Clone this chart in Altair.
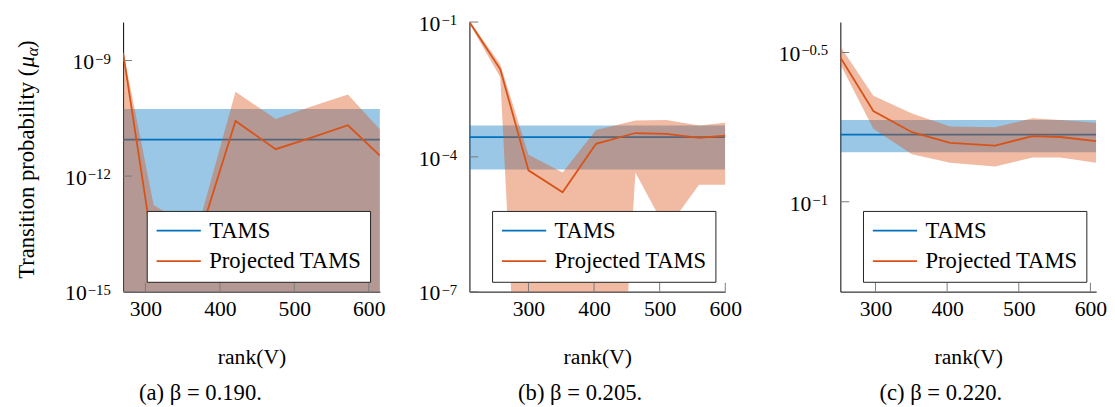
import altair as alt
import pandas as pd

FONT = "Liberation Serif"
BLUE = "#0072BD"
ORANGE = "#D95319"
TICK = "#7a7a7a"

# ---------------- data ----------------
x_ticks = [300, 400, 500, 600]

# (a) beta = 0.190
rank_a = [270, 311, 369, 421, 475, 520, 572, 615]
mean_a = [1.58e-9, 1.05e-14, 1.62e-14, 2.69e-11, 5.0e-12, 9.5e-12, 2.09e-11, 3.39e-12]
hi_a = [1.78e-9, 1.78e-13, 3.63e-14, 1.55e-10, 3.02e-11, 6.17e-11, 1.32e-10, 1.62e-11]
lo_a = [1e-17, 1e-18, 1e-18, 1e-16, 1e-17, 1e-17, 1e-16, 1e-17]
tams_a = [8.9e-12, 5.5e-11, 1e-17]          # mean, upper, lower
ydom_a = [1e-15, 1e-8]
yticks_a = [1e-15, 1e-12, 1e-9]
yexp_a = ["\u221215", "\u221212", "\u22129"]

# (b) beta = 0.205
rank_b = [210, 257, 300, 352, 403, 463, 510, 560, 600]
mean_b = [0.1, 8.9e-3, 5.0e-5, 1.62e-5, 1.95e-4, 3.39e-4, 3.24e-4, 2.63e-4, 2.95e-4]
hi_b = [0.107, 1.15e-2, 1.12e-4, 4.47e-5, 3.98e-4, 6.46e-4, 6.61e-4, 5.0e-4, 5.75e-4]
lo_b = [0.0933, 5.9e-3, 2.5e-15, 1e-16, 1.6e-19, 4.47e-5, 2.34e-6, 2.4e-5, 2.4e-5]
tams_b = [2.75e-4, 5.0e-4, 5.25e-5]
ydom_b = [1e-7, 1e-1]
yticks_b = [1e-7, 1e-4, 1e-1]
yexp_b = ["\u22127", "\u22124", "\u22121"]

# (c) beta = 0.220
rank_c = [251, 297, 351, 404, 467, 519, 558, 608]
mean_c = [0.3044, 0.2014, 0.1710, 0.1574, 0.1542, 0.1660, 0.1648, 0.1596]
hi_c = [0.3311, 0.2265, 0.1977, 0.1786, 0.1778, 0.1905, 0.1879, 0.1841]
lo_c = [0.2891, 0.1758, 0.1442, 0.1352, 0.1312, 0.1406, 0.1406, 0.1352]
tams_c = [0.1679, 0.1879, 0.1466]
ydom_c = [0.05, 0.4]
yticks_c = [0.1, 0.316228]
yexp_c = ["\u22121", "\u22120.5"]

H = 274
FS = 22


def exp_width(e):
    # approximate advance width of the superscript (Liberation Serif, 15px)
    w = 0.0
    for ch in e:
        w += 8.5 if ch == "\u2212" else (3.75 if ch == "." else 7.5)
    return w


def panel(ranks, mean, hi, lo, tams, ydom, yticks, yexps, width, caption,
          ytitle=False, left_extent=None):
    xs = alt.Scale(domain=[ranks[0], ranks[-1]], nice=False, zero=False)
    ys = alt.Scale(type="log", domain=ydom, nice=False)
    xax = alt.Axis(values=x_ticks, ticks=False, grid=False, title="rank(V)",
                   labelPadding=24, labelBaseline="alphabetic", labelFlush=False,
                   labelOverlap=False, titlePadding=28, domainColor="black",
                   labelFont=FONT, labelFontSize=FS, labelColor="black",
                   titleFont=FONT, titleFontSize=FS, titleFontWeight="normal",
                   titleColor="black")
    yax = alt.Axis(values=yticks, labels=False, ticks=False, grid=False, title="",
                   domainColor="black")
    X = lambda f: alt.X(f, scale=xs, axis=xax)
    Y = lambda f: alt.Y(f, scale=ys, axis=yax)

    legend = alt.Legend(
        title=None, orient="bottom-right", offset=10, padding=8.5,
        fillColor="white", strokeColor="#222222", cornerRadius=0,
        symbolType="M-1,0H3.5", symbolSize=400, symbolStrokeWidth=2,
        labelFont=FONT, labelFontSize=23, labelColor="black",
        labelOffset=32, rowPadding=7, labelLimit=400,
    )
    color = alt.Color(
        "series:N",
        scale=alt.Scale(domain=["TAMS", "Projected TAMS"], range=[BLUE, ORANGE]),
        legend=legend,
    )
    proj = pd.DataFrame({"rank": ranks, "mean": mean, "hi": hi, "lo": lo,
                         "series": ["Projected TAMS"] * len(ranks)})
    tm = pd.DataFrame({"rank": [ranks[0], ranks[-1]], "mean": [tams[0]] * 2,
                       "hi": [tams[1]] * 2, "lo": [tams[2]] * 2, "series": ["TAMS"] * 2})

    band_t = alt.Chart(tm).mark_area(color=BLUE, opacity=0.4, clip=True).encode(
        x=X("rank:Q"), y=Y("hi:Q"), y2="lo:Q")
    line_t = alt.Chart(tm).mark_line(strokeWidth=1.8, clip=True).encode(
        x=X("rank:Q"), y=Y("mean:Q"), color=color)
    band_p = alt.Chart(proj).mark_area(color=ORANGE, opacity=0.4, clip=True).encode(
        x=X("rank:Q"), y=Y("hi:Q"), y2="lo:Q")
    line_p = alt.Chart(proj).mark_line(strokeWidth=1.8, clip=True).encode(
        x=X("rank:Q"), y=Y("mean:Q"), color=color)

    xt = alt.Chart(pd.DataFrame({"rank": x_ticks})).mark_rule(color=TICK, strokeWidth=1).encode(
        x=X("rank:Q"), y=alt.value(H), y2=alt.value(H - 9))
    yt = alt.Chart(pd.DataFrame({"hi": yticks})).mark_rule(color=TICK, strokeWidth=1).encode(
        y=Y("hi:Q"), x=alt.value(0), x2=alt.value(9))

    layers = [band_t, line_t, band_p, line_p, xt, yt]

    # y tick labels: 10^{exponent}
    for v, e in zip(yticks, yexps):
        one = pd.DataFrame({"hi": [v], "e": [e]})
        layers.append(alt.Chart(one).mark_text(
            align="right", baseline="alphabetic", font=FONT, fontSize=15, dy=3,
            color="black").encode(y=Y("hi:Q"), x=alt.value(-12.5), text="e:N"))
        layers.append(alt.Chart(one).mark_text(
            align="right", baseline="alphabetic", font=FONT, fontSize=FS, dy=9,
            dx=-(1.0 + exp_width(e)), color="black").encode(
            y=Y("hi:Q"), x=alt.value(-12.5), text=alt.value("10")))

    if left_extent is not None:
        # invisible spacer so the gap between panels matches the original layout
        layers.append(alt.Chart(pd.DataFrame({"k": [0]})).mark_rule(opacity=0).encode(
            x=alt.value(-left_extent), x2=alt.value(-left_extent + 1),
            y=alt.value(150), y2=alt.value(151)))

    if ytitle:
        one = pd.DataFrame({"k": [0]})
        X0 = -91
        ybot = 140 + 121
        wA, wMu, wAl = 214.7, 11.5, 8.5
        pieces = [
            ("Transition probability (", 23, "normal", 0, 0),
            ("\u03bc", 23, "italic", 0, wA),
            ("\u03b1", 17, "italic", 4, wA + wMu),
            (")", 23, "normal", 0, wA + wMu + wAl),
        ]
        for txt, fs, st, sx, off in pieces:
            layers.append(alt.Chart(one).mark_text(
                angle=270, align="left", baseline="alphabetic", font=FONT,
                fontSize=fs, fontStyle=st, color="black").encode(
                x=alt.value(X0 + sx), y=alt.value(ybot - off), text=alt.value(txt)))

    return alt.layer(*layers).properties(
        width=width, height=H,
        title=alt.TitleParams(text=caption, orient="bottom", anchor="middle", frame="bounds",
                              font=FONT, fontSize=23, fontWeight="normal", color="black",
                              offset=15),
    )


pa = panel(rank_a, mean_a, hi_a, lo_a, tams_a, ydom_a, yticks_a, yexp_a, 261,
           "(a) \u03b2 = 0.190.", ytitle=True)
pb = panel(rank_b, mean_b, hi_b, lo_b, tams_b, ydom_b, yticks_b, yexp_b, 260,
           "(b) \u03b2 = 0.205.")
pc = panel(rank_c, mean_c, hi_c, lo_c, tams_c, ydom_c, yticks_c, yexp_c, 260,
           "(c) \u03b2 = 0.220.", left_extent=66.5)

chart = alt.hconcat(pa, pb, pc, spacing=33).resolve_scale(
    color="independent", x="independent", y="independent"
).resolve_legend(color="independent")

chart = chart.configure(font=FONT).properties(
    padding={"left": 7, "top": 2, "right": 0, "bottom": 0}
).configure_view(stroke=None)

chart.save("out.html", embed_options={"renderer": "svg", "actions": False})
